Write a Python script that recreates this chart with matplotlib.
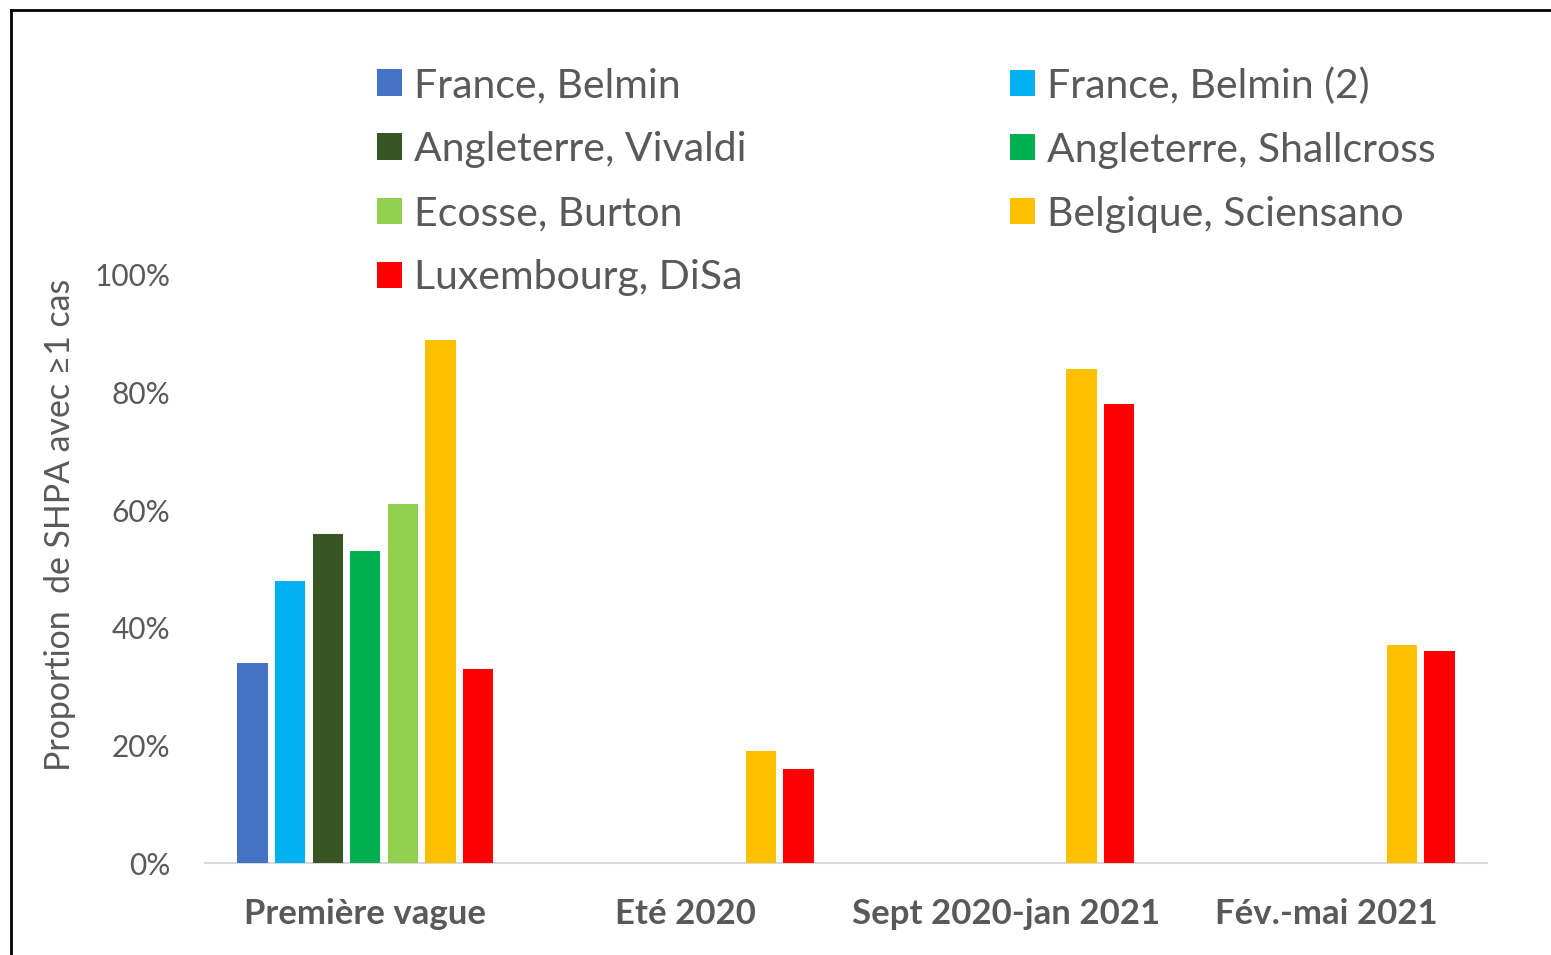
import numpy as np
import matplotlib
matplotlib.use("Agg")
import matplotlib.pyplot as plt
from matplotlib.lines import Line2D
from matplotlib.patches import Patch

plt.rcParams['font.family'] = ['Lato', 'DejaVu Sans']

# Periods on the x axis
categories = ["Première vague", "Eté 2020", "Sept 2020-jan 2021", "Fév.-mai 2021"]

# Series (proportion of care homes with at least one case)
series_names = [
    "France, Belmin",
    "France, Belmin (2)",
    "Angleterre, Vivaldi",
    "Angleterre, Shallcross",
    "Ecosse, Burton",
    "Belgique, Sciensano",
    "Luxembourg, DiSa",
]
france_belmin = [0.34, np.nan, np.nan, np.nan]
france_belmin2 = [0.48, np.nan, np.nan, np.nan]
angleterre_vivaldi = [0.56, np.nan, np.nan, np.nan]
angleterre_shallcross = [0.53, np.nan, np.nan, np.nan]
ecosse_burton = [0.61, np.nan, np.nan, np.nan]
belgique_sciensano = [0.89, 0.19, 0.84, 0.37]
luxembourg_disa = [0.33, 0.16, 0.78, 0.36]

series_values = [france_belmin, france_belmin2, angleterre_vivaldi,
                 angleterre_shallcross, ecosse_burton, belgique_sciensano,
                 luxembourg_disa]
colors = ["#4472C4", "#00B0F0", "#375623", "#00B050", "#92D050", "#FFC000", "#FF0000"]

yticks = [0, 0.2, 0.4, 0.6, 0.8, 1.0]
ytick_labels = ["0%", "20%", "40%", "60%", "80%", "100%"]

W, H = 1551, 955
fig = plt.figure(figsize=(W / 100, H / 100), dpi=100)
ax = fig.add_axes([205 / W, 1 - 863 / H, (1487 - 205) / W, (863 - 275) / H])

text_color = "#595959"
x = np.arange(len(categories))
slot = 0.1173
width = 0.094
handles = []
for i, (name, vals, col) in enumerate(zip(series_names, series_values, colors)):
    ax.bar(x + (i - 3) * slot, vals, width=width, color=col, label=name, zorder=3)
    handles.append(Patch(facecolor=col, label=name))

ax.set_xlim(-0.5, len(categories) - 0.5)
ax.set_ylim(0, 1)
ax.set_yticks(yticks)
ax.set_yticklabels(ytick_labels)
ax.set_xticks(x)
ax.set_xticklabels(categories, fontweight="bold", fontsize=25)
ax.tick_params(axis="both", length=0, colors=text_color)
ax.tick_params(axis="y", pad=25, labelsize=21.5)
ax.tick_params(axis="x", pad=25)
for s in ["left", "right", "top"]:
    ax.spines[s].set_visible(False)
ax.spines["bottom"].set_color("#D9D9D9")
ax.spines["bottom"].set_linewidth(1.5)

fig.text(60 / W, 1 - 525 / H, "Proportion  de SHPA avec ≥1 cas", rotation=90,
         ha="center", va="center", color=text_color, fontsize=24.4)

# Legend: two columns laid out as separate blocks
fs = 29.5
fs_px = fs * 100 / 72
common = dict(fontsize=fs, frameon=False, handlelength=25 / fs_px,
              handleheight=25 / fs_px, handletextpad=12 / fs_px,
              labelspacing=0.66, borderpad=0, borderaxespad=0,
              labelcolor=text_color, loc="upper left")
order1 = [0, 2, 4, 6]
order2 = [1, 3, 5]
top = 1 - 67 / H
leg1 = fig.legend([handles[i] for i in order1], [series_names[i] for i in order1],
                  bbox_to_anchor=(377 / W, top), **common)
leg2 = fig.legend([handles[i] for i in order2], [series_names[i] for i in order2],
                  bbox_to_anchor=(1010 / W, top), **common)

# Frame lines on the left and top edges
fig.add_artist(Line2D([11 / W, 11 / W], [0, 1 - 10 / H], color="black", linewidth=2,
                      transform=fig.transFigure))
fig.add_artist(Line2D([11 / W, 1], [1 - 10 / H, 1 - 10 / H], color="black", linewidth=2,
                      transform=fig.transFigure))

fig.savefig("out.png", dpi=100)
